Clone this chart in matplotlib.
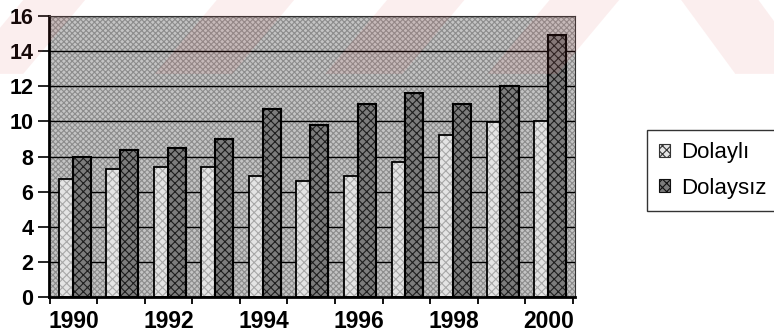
import matplotlib.pyplot as plt
import numpy as np
from matplotlib.patches import Polygon, Patch

yillar = ['1990', '1991', '1992', '1993', '1994', '1995', '1996', '1997', '1998', '1999', '2000']
dolayli = [6.7, 7.3, 7.4, 7.4, 6.9, 6.6, 6.9, 7.7, 9.25, 9.95, 10.0]
dolaysiz = [8.0, 8.4, 8.5, 9.0, 10.7, 9.8, 11.0, 11.6, 11.0, 12.0, 14.9]

plt.rcParams['font.family'] = ['Liberation Sans', 'DejaVu Sans']
plt.rcParams['hatch.linewidth'] = 0.8

fig = plt.figure(figsize=(7.74, 3.36), dpi=100)
ax = fig.add_axes([0.063, 0.116, 0.680, 0.836])

x = np.arange(len(yillar))
w = 0.38

# plot area background (stippled grey)
ax.set_facecolor('#c4c4c4')
ax.patch.set_hatch('xxxxxx')
ax.patch.set_edgecolor('#8c8c8c')

for y in range(2, 17, 2):
    ax.axhline(y, color='black', lw=1.0, zorder=1)

# Dolaylı bars (lighter), drawn first
ax.bar(x - 0.12, dolayli, w, color='#e4e4e4', edgecolor='#a8a8a8', hatch='xxxx', lw=0, zorder=2)
ax.bar(x - 0.12, dolayli, w, fill=False, edgecolor='black', lw=1.3, zorder=2)
# Dolaysız bars (darker), overlap on top
ax.bar(x + 0.17, dolaysiz, w, color='#7c7c7c', edgecolor='#1e1e1e', hatch='xxxx', lw=0, zorder=3)
ax.bar(x + 0.17, dolaysiz, w, fill=False, edgecolor='black', lw=1.5, zorder=3)

ax.set_xlim(-0.52, 10.55)
ax.set_ylim(0, 16)
ax.set_yticks(range(0, 17, 2))
ax.set_xticks(np.arange(-0.5, 11, 1))
ax.set_xticklabels([])
ax.set_xticks(x[::2], minor=True)
ax.set_xticklabels(yillar[::2], minor=True)
ax.tick_params(axis='x', which='minor', length=0, pad=9)
ax.tick_params(axis='x', which='major', length=5, width=1.3, direction='out')
ax.tick_params(axis='y', length=8, width=1.2, pad=3)
for lab in ax.get_yticklabels():
    lab.set_fontweight('bold')
    lab.set_fontsize(15.5)
for lab in ax.get_xticklabels(minor=True):
    lab.set_fontweight('bold')
    lab.set_fontsize(16.5)

ax.spines['left'].set_linewidth(2.0)
ax.spines['bottom'].set_linewidth(2.0)
ax.spines['top'].set_linewidth(0.8)
ax.spines['right'].set_linewidth(0.8)
ax.spines['top'].set_color('#333333')
ax.spines['right'].set_color('#333333')

# legend
h1 = Patch(facecolor='#e4e4e4', edgecolor='#333333', hatch='xxxx', lw=0.8)
h2 = Patch(facecolor='#7c7c7c', edgecolor='#111111', hatch='xxxx', lw=0.8)
leg = fig.legend([h1, h2], ['Dolaylı', 'Dolaysız'], loc='upper left',
                 bbox_to_anchor=(0.836, 0.613), fontsize=16, frameon=True,
                 fancybox=False, edgecolor='black', handlelength=0.5, handleheight=0.5,
                 handletextpad=0.5, borderpad=0.55, labelspacing=0.65, borderaxespad=0)
leg.get_frame().set_linewidth(1.0)

# faint watermark stripes at the top
for x0, x1, dx in [(-0.05, 0.03, 0.08), (0.2, 0.3, 0.08), (0.42, 0.52, 0.08), (0.63, 0.72, 0.08)]:
    poly = Polygon([(x0, 0.78), (x1, 0.78), (x1 + dx, 1.0), (x0 + dx, 1.0)],
                   closed=True, transform=fig.transFigure, facecolor='#e06060',
                   alpha=0.10, lw=0, zorder=10)
    fig.add_artist(poly)
poly = Polygon([(0.88, 1.0), (0.98, 1.0), (1.05, 0.78), (0.95, 0.78)],
               closed=True, transform=fig.transFigure, facecolor='#e06060',
               alpha=0.10, lw=0, zorder=10)
fig.add_artist(poly)

fig.savefig('out.png', dpi=100)
